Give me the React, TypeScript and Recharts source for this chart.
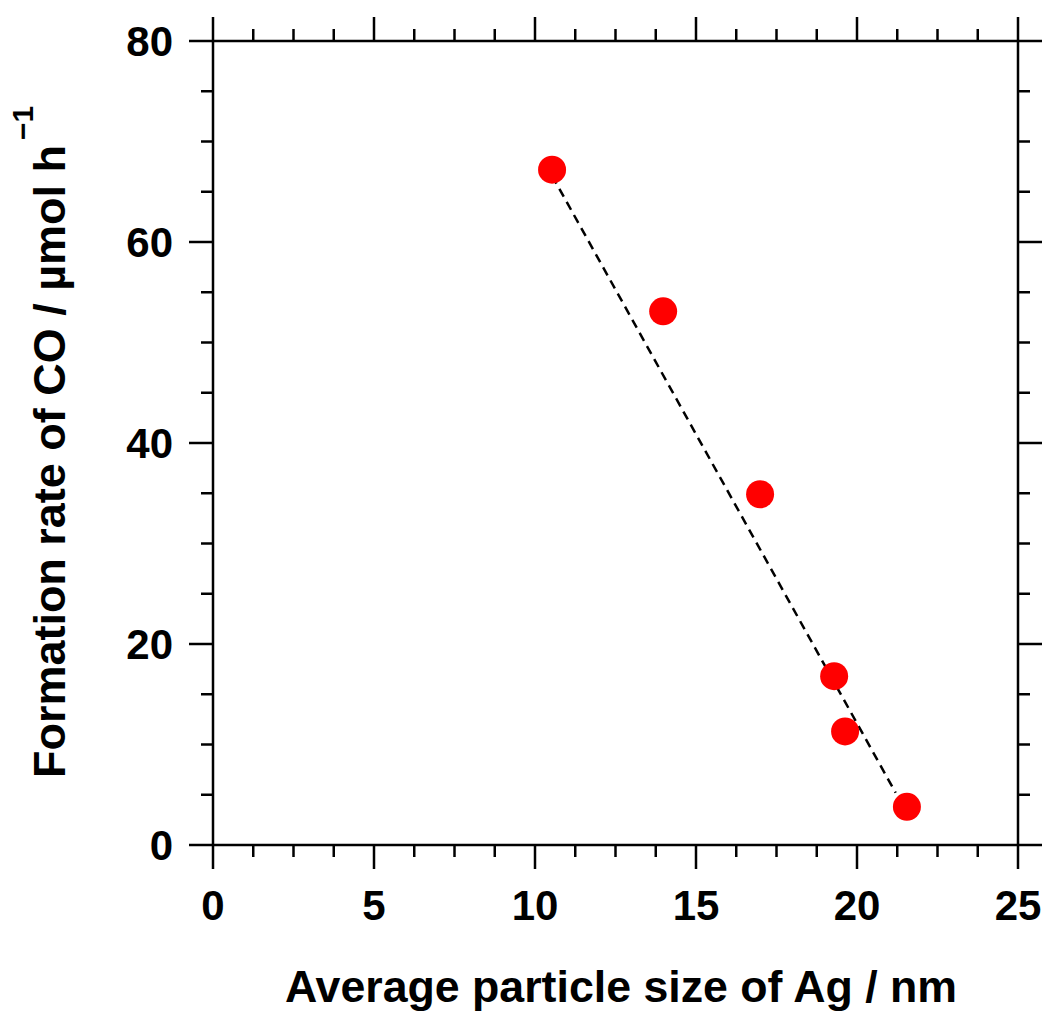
import { ScatterChart, Scatter, XAxis, YAxis } from "recharts";

// particle size (nm) vs CO formation rate (µmol/h)
const particleSize = [10.53, 13.98, 16.99, 19.29, 19.63, 21.55];
const coRate = [67.2, 53.1, 34.9, 16.8, 11.3, 3.8];

// dashed trend line end points
const fitX = [10.53, 21.2];
const fitY = [66.6, 5.2];

const xMajorTicks = [0, 5, 10, 15, 20, 25];
const yMajorTicks = [0, 20, 40, 60, 80];
const SUBDIV = 4;

const FONT = "'Liberation Sans', Arial, Helvetica, sans-serif";
const AXIS_W = 2.5;
const MAJOR_LEN = 24;
const MINOR_LEN = 12;

function withMinor(major: number[]) {
  const out: number[] = [];
  for (let i = 0; i < major.length - 1; i++) {
    const step = (major[i + 1] - major[i]) / SUBDIV;
    for (let k = 0; k < SUBDIV; k++) out.push(major[i] + k * step);
  }
  out.push(major[major.length - 1]);
  return out;
}

const xTicks = withMinor(xMajorTicks);
const yTicks = withMinor(yMajorTicks);

const points = particleSize.map((x, i) => ({ x, y: coRate[i] }));
const fitLine = fitX.map((x, i) => ({ x, y: fitY[i] }));

function XTick(props: any) {
  const { x, y, payload, side } = props;
  const v = payload.value;
  const major = xMajorTicks.includes(v);
  const dir = side === "bottom" ? 1 : -1;
  return (
    <g>
      <line
        x1={x}
        y1={y}
        x2={x}
        y2={y + dir * (major ? MAJOR_LEN : MINOR_LEN)}
        stroke="#000"
        strokeWidth={AXIS_W}
      />
      {side === "bottom" && major && (
        <text
          x={x}
          y={y + 75}
          textAnchor="middle"
          fontFamily={FONT}
          fontWeight="bold"
          fontSize={42}
          fill="#000"
        >
          {v}
        </text>
      )}
    </g>
  );
}

function YTick(props: any) {
  const { x, y, payload, side } = props;
  const v = payload.value;
  const major = yMajorTicks.includes(v);
  const dir = side === "left" ? -1 : 1;
  return (
    <g>
      <line
        x1={x}
        y1={y}
        x2={x + dir * (major ? MAJOR_LEN : MINOR_LEN)}
        y2={y}
        stroke="#000"
        strokeWidth={AXIS_W}
      />
      {side === "left" && major && (
        <text
          x={x - 40}
          y={y}
          dy="0.36em"
          textAnchor="end"
          fontFamily={FONT}
          fontWeight="bold"
          fontSize={42}
          fill="#000"
        >
          {v}
        </text>
      )}
    </g>
  );
}

const XTitle = ({ viewBox }: any) => (
  <text
    x={viewBox.x + 72}
    y={viewBox.y + 157}
    fontFamily={FONT}
    fontWeight="bold"
    fontSize={45}
    textLength={672}
    lengthAdjust="spacingAndGlyphs"
    fill="#000"
  >
    Average particle size of Ag / nm
  </text>
);

const YTitle = ({ viewBox }: any) => {
  const bx = viewBox.x + viewBox.width - 148;
  const by = viewBox.y + viewBox.height - 67;
  return (
    <g>
      <text
        transform={`translate(${bx},${by}) rotate(-90)`}
        fontFamily={FONT}
        fontWeight="bold"
        fontSize={45}
        textLength={633}
        lengthAdjust="spacingAndGlyphs"
        fill="#000"
      >
        Formation rate of CO / µmol h
      </text>
      <text
        transform={`translate(${bx - 32},${by - 638}) rotate(-90)`}
        fontFamily={FONT}
        fontWeight="bold"
        fontSize={30}
        fill="#000"
      >
        −1
      </text>
    </g>
  );
};

const axisCommon = {
  type: "number" as const,
  interval: 0 as const,
  tickSize: 0,
  tickMargin: 0,
  tickLine: false,
  axisLine: { stroke: "#000", strokeWidth: AXIS_W },
};

export default function App() {
  return (
    <div style={{ position: "absolute", left: 0, top: 0 }}>
      <ScatterChart
        width={1049}
        height={1014}
        margin={{ top: 40, right: 30, bottom: 168, left: 212 }}
      >
        <XAxis
          {...axisCommon}
          xAxisId="b"
          dataKey="x"
          domain={[0, 25]}
          ticks={xTicks}
          height={1}
          tick={<XTick side="bottom" />}
          label={{ content: XTitle }}
        />
        <XAxis
          {...axisCommon}
          xAxisId="t"
          orientation="top"
          dataKey="x"
          domain={[0, 25]}
          ticks={xTicks}
          height={1}
          tick={<XTick side="top" />}
        />
        <YAxis
          {...axisCommon}
          yAxisId="l"
          dataKey="y"
          domain={[0, 80]}
          ticks={yTicks}
          width={1}
          tick={<YTick side="left" />}
          label={{ content: YTitle }}
        />
        <YAxis
          {...axisCommon}
          yAxisId="r"
          orientation="right"
          dataKey="y"
          domain={[0, 80]}
          ticks={yTicks}
          width={1}
          tick={<YTick side="right" />}
        />
        <Scatter
          data={fitLine}
          xAxisId="t"
          yAxisId="r"
          line={{ stroke: "#000", strokeWidth: 2.5, strokeDasharray: "9 6" }}
          shape={() => <g />}
          isAnimationActive={false}
        />
        <Scatter
          data={points}
          xAxisId="b"
          yAxisId="l"
          fill="#ff0000"
          shape={(p: any) => <circle cx={p.cx} cy={p.cy} r={14} fill="#ff0000" />}
          isAnimationActive={false}
        />
      </ScatterChart>
    </div>
  );
}
